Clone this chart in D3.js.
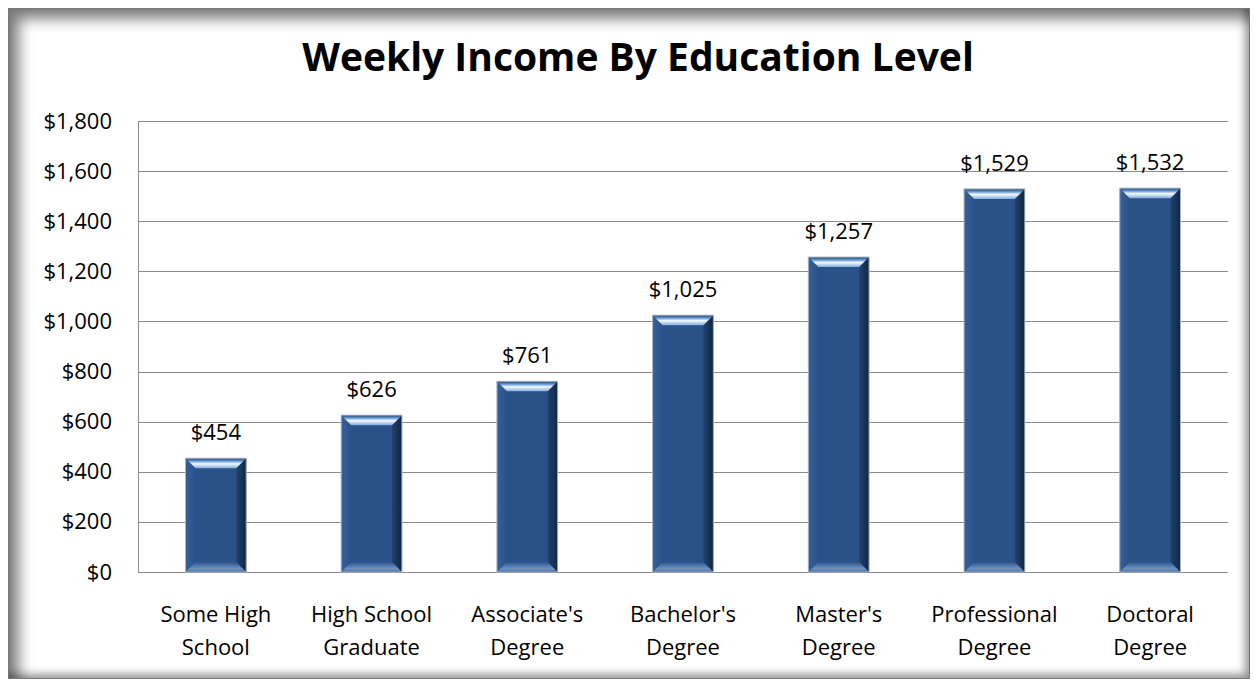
<!DOCTYPE html>
<html>
<head>
<meta charset="utf-8">
<script src="https://cdn.jsdelivr.net/npm/d3@7"></script>
<style>
  body { margin: 0; background: #fff; }
  #frame {
    position: absolute; left: 8px; top: 8px; width: 1242px; height: 671px;
    box-shadow: inset 10px 10px 14px rgba(0,0,0,0.5), inset -4px -4px 8px rgba(0,0,0,0.4);
    border: 1px solid #777; box-sizing: border-box;
  }
  svg { position: absolute; left: 0; top: 0; }
</style>
</head>
<body>
<div id="frame"></div>
<svg id="chart" width="1255" height="686"></svg>
<script>
  // Data
  const categories = [["Some High", "School"], ["High School", "Graduate"], ["Associate's", "Degree"],
    ["Bachelor's", "Degree"], ["Master's", "Degree"], ["Professional", "Degree"], ["Doctoral", "Degree"]];
  const incomes = [454, 626, 761, 1025, 1257, 1529, 1532];
  const yTicks = [0, 200, 400, 600, 800, 1000, 1200, 1400, 1600, 1800];

  const svg = d3.select("#chart");
  const margin = { left: 138, right: 27, top: 121, bottom: 114 };
  const w = 1255 - margin.left - margin.right;
  const h = 686 - margin.top - margin.bottom;
  const font = "'Open Sans', Lato, sans-serif";
  const fs = 22;

  const g = svg.append("g").attr("transform", `translate(${margin.left},${margin.top})`);
  const keys = categories.map(d => d.join(" "));
  const x = d3.scaleBand().domain(keys).range([0, w]).paddingInner(0.61).paddingOuter(0.305);
  const y = d3.scaleLinear().domain([0, 1800]).range([h, 0]);
  const fmt = d => "$" + d3.format(",")(d);

  // Title
  svg.append("text").attr("x", 638).attr("y", 71).attr("text-anchor", "middle")
    .attr("font-family", font).attr("font-weight", 700).attr("font-size", 39)
    .attr("fill", "#000").text("Weekly Income By Education Level");

  // Grid lines
  g.selectAll(".grid").data(yTicks).enter().append("line")
    .attr("x1", 0).attr("x2", w)
    .attr("y1", d => Math.round(y(d)) + 0.5).attr("y2", d => Math.round(y(d)) + 0.5)
    .attr("stroke", "#8c8c8c").attr("stroke-width", 1);
  g.append("line").attr("x1", 0.5).attr("x2", 0.5).attr("y1", y(1800)).attr("y2", y(0))
    .attr("stroke", "#8c8c8c");

  // Y axis labels
  g.append("g").call(d3.axisLeft(y).tickValues(yTicks).tickFormat(fmt).tickSize(0).tickPadding(26))
    .call(a => a.select(".domain").remove())
    .selectAll("text").attr("font-family", font).attr("font-size", fs).attr("fill", "#000");

  // X axis labels (two lines)
  const xl = g.append("g").attr("transform", `translate(0,${h})`);
  categories.forEach((c, i) => {
    const t = xl.append("text").attr("x", x(keys[i]) + x.bandwidth() / 2).attr("y", 50)
      .attr("text-anchor", "middle").attr("font-family", font).attr("font-size", fs).attr("fill", "#000");
    c.forEach((line, j) => t.append("tspan").attr("x", x(keys[i]) + x.bandwidth() / 2)
      .attr("dy", j === 0 ? 0 : 33).text(line));
  });

  // Gradients for bevels
  const defs = svg.append("defs");
  const topGrad = defs.append("linearGradient").attr("id", "topBevel").attr("x1", 0).attr("y1", 0).attr("x2", 0).attr("y2", 1);
  topGrad.append("stop").attr("offset", "0%").attr("stop-color", "#1f3f6e");
  topGrad.append("stop").attr("offset", "30%").attr("stop-color", "#6a9ed8");
  topGrad.append("stop").attr("offset", "55%").attr("stop-color", "#f2faff");
  topGrad.append("stop").attr("offset", "100%").attr("stop-color", "#80acdf");
  const botGrad = defs.append("linearGradient").attr("id", "botBevel").attr("x1", 0).attr("y1", 0).attr("x2", 0).attr("y2", 1);
  botGrad.append("stop").attr("offset", "0%").attr("stop-color", "#2c5389");
  botGrad.append("stop").attr("offset", "70%").attr("stop-color", "#7096c6");
  botGrad.append("stop").attr("offset", "100%").attr("stop-color", "#3d6296");
  const rightGrad = defs.append("linearGradient").attr("id", "rightBevel").attr("x1", 0).attr("y1", 0).attr("x2", 1).attr("y2", 0);
  rightGrad.append("stop").attr("offset", "0%").attr("stop-color", "#22426e");
  rightGrad.append("stop").attr("offset", "100%").attr("stop-color", "#0f2642");
  const leftGrad = defs.append("linearGradient").attr("id", "leftBevel").attr("x1", 0).attr("y1", 0).attr("x2", 1).attr("y2", 0);
  leftGrad.append("stop").attr("offset", "0%").attr("stop-color", "#36609a");
  leftGrad.append("stop").attr("offset", "100%").attr("stop-color", "#2b5189");

  // Bars
  const bv = 10;
  const bw = x.bandwidth();
  const bars = g.selectAll(".bar").data(incomes).enter().append("g")
    .attr("transform", (d, i) => `translate(${x(keys[i])},${y(d)})`);
  bars.append("rect").attr("width", bw).attr("height", d => h - y(d))
    .attr("fill", "#2b5189");
  bars.append("polygon").attr("fill", "url(#leftBevel)")
    .attr("points", d => `0,0 ${bv},${bv} ${bv},${h - y(d) - bv} 0,${h - y(d)}`);
  bars.append("polygon").attr("fill", "url(#rightBevel)")
    .attr("points", d => `${bw},0 ${bw - bv},${bv} ${bw - bv},${h - y(d) - bv} ${bw},${h - y(d)}`);
  bars.append("polygon").attr("fill", "url(#topBevel)")
    .attr("points", `0,0 ${bw},0 ${bw - bv},${bv} ${bv},${bv}`);
  bars.append("polygon").attr("fill", "url(#botBevel)")
    .attr("points", d => `0,${h - y(d)} ${bw},${h - y(d)} ${bw - bv},${h - y(d) - bv} ${bv},${h - y(d) - bv}`);
  bars.append("rect").attr("width", bw).attr("height", d => h - y(d))
    .attr("fill", "none").attr("stroke", "#aab6c4").attr("stroke-width", 1);

  // Value labels
  g.selectAll(".val").data(incomes).enter().append("text")
    .attr("x", (d, i) => x(keys[i]) + bw / 2).attr("y", d => y(d) - 18)
    .attr("text-anchor", "middle").attr("font-family", font).attr("font-size", fs).attr("fill", "#000")
    .text(fmt);
</script>
</body>
</html>
